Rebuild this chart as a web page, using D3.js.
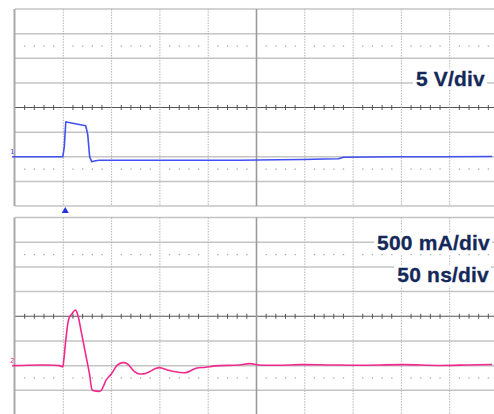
<!DOCTYPE html>
<html>
<head>
<meta charset="utf-8">
<script src="https://cdn.jsdelivr.net/npm/d3@7"></script>
<style>
body { margin: 0; background: #fff; }
</style>
</head>
<body>
<div id="scope"></div>
<script>
// time in ns, channel 1 in V, channel 2 in mA
const timeV = [-3, 49.5, 51, 52.6, 54.6, 65, 73.2, 75.3, 77.3, 79.4, 83.5, 87.6, 139, 190.7, 232, 273, 299, 320, 335, 340, 397, 440, 494];
const volts = [0, 0, 2, 7.1, 7.0, 6.6, 6.3, 4.5, 0, -1.0, -0.8, -0.7, -0.7, -0.7, -0.7, -0.6, -0.55, -0.45, -0.4, -0.1, 0, 0, 0.05];

const timeI = [-3, 25.8, 46.4, 49.2, 50.5, 52.6, 56, 58.8, 62.6, 65, 68.8, 73.9, 77.3, 80, 82.5, 88.7, 91.2, 94.5, 99.7, 106.2, 111.3, 116.5, 123.7, 128.9, 135.8, 146.1, 149.5, 157.7, 162.9, 177, 187.3, 197.6, 208, 232, 243, 252.6, 273, 296, 325, 356, 402, 438, 469, 494];
const milliamps = [0, 14, 0, -26, 115, 520, 965, 1046, 1127, 1026, 662, 156, -188, -492, -512, -512, -431, -289, -168, 14, 61, 34, -121, -168, -154, -53, -40, -87, -113, -142, -53, -32, -6, 14, 40, 14, 8, 20, 14, 8, 20, 4, 14, 24];

const labelsTop = ["5 V/div"];
const labelsBottom = ["500 mA/div", "50 ns/div"];
const triggerTime = 52;

const svg = d3.select("#scope")
    .append("svg")
    .attr("width", 494)
    .attr("height", 414);

const x = d3.scaleLinear().domain([0, 500]).range([15, 498]);

const panels = [
    { y: d3.scaleLinear().domain([-10, 30]).range([206, 9]), t: timeV, v: volts, color: "#4150ee", mark: "1", curve: d3.curveLinear },
    { y: d3.scaleLinear().domain([-1000, 3000]).range([415, 217.5]), t: timeI, v: milliamps, color: "#f02a8c", mark: "2", curve: d3.curveCatmullRom }
];

function drawGrid(g, y) {
    const d = y.domain();
    const step = (d[1] - d[0]) / 8;
    const top = y.range()[1], bot = y.range()[0];
    const rows = d3.range(9).map(i => d[0] + i * step);

    // horizontal division lines
    g.selectAll(".hl").data(rows).join("line")
        .attr("x1", 15).attr("x2", 494)
        .attr("y1", v => y(v)).attr("y2", v => y(v))
        .attr("stroke", (v, i) => i == 4 ? "#555" : "#c4c4c4")
        .attr("stroke-width", (v, i) => i == 4 ? 1 : 1.5);

    // vertical division lines
    const cols = d3.range(50, 500, 50);
    g.selectAll(".vl").data(cols).join("line")
        .attr("x1", t => x(t)).attr("x2", t => x(t))
        .attr("y1", top).attr("y2", bot)
        .attr("stroke", t => t == 250 ? "#9a9a9a" : "#b4b4b4")
        .attr("stroke-width", t => t == 250 ? 1.6 : 1)
        .attr("stroke-dasharray", t => t == 250 ? null : "1.5,1.2");

    // minor ticks on the centre line and dotted rows
    const minor = d3.range(0, 500, 10).filter(t => t % 50 != 0);
    const mid = d[0] + 4 * step;
    g.selectAll(".tk").data(minor).join("line")
        .attr("x1", t => x(t)).attr("x2", t => x(t))
        .attr("y1", y(mid) - 2.5).attr("y2", y(mid) + 2.5)
        .attr("stroke", "#555").attr("stroke-width", 1);
    [d[0] + 1.5 * step, d[0] + 6.5 * step].forEach(r => {
        g.append("g").selectAll("rect").data(minor).join("rect")
            .attr("x", t => x(t) - 0.6).attr("y", y(r) - 0.6)
            .attr("width", 1.3).attr("height", 1.3)
            .attr("fill", "#a8a8a8");
    });

    // left border
    g.append("line")
        .attr("x1", 14.5).attr("x2", 14.5).attr("y1", top).attr("y2", bot)
        .attr("stroke", "#a8a8a8").attr("stroke-width", 2);
}

panels.forEach(p => {
    const g = svg.append("g");
    drawGrid(g, p.y);

    const line = d3.line()
        .x((d, i) => x(p.t[i]))
        .y(d => p.y(d))
        .curve(p.curve);
    g.append("path")
        .datum(p.v)
        .attr("d", line)
        .attr("fill", "none")
        .attr("stroke", p.color)
        .attr("stroke-width", 1.6)
        .attr("stroke-linejoin", "round");

    // channel ground marker
    g.append("text")
        .attr("x", 10).attr("y", p.y(0) - 3)
        .attr("font-family", "DejaVu Sans")
        .attr("font-size", 7)
        .attr("fill", p.color)
        .text(p.mark);
});

// trigger position
svg.append("path")
    .attr("d", d3.symbol(d3.symbolTriangle, 22)())
    .attr("transform", `translate(${x(triggerTime)},211)`)
    .attr("fill", "#2233dd");

function label(txt, xr, yb) {
    const t = svg.append("text")
        .attr("x", xr).attr("y", yb)
        .attr("text-anchor", "end")
        .attr("font-family", "Liberation Sans, Arial, sans-serif")
        .attr("font-weight", "bold")
        .attr("font-size", 21)
        .attr("letter-spacing", 0.2)
        .attr("stroke", "#14295a")
        .attr("stroke-width", 0.3)
        .attr("fill", "#14295a")
        .text(txt);
    const b = t.node().getBBox();
    svg.insert("rect", () => t.node())
        .attr("x", b.x - 3).attr("y", b.y + 2)
        .attr("width", b.width + 5).attr("height", b.height - 2)
        .attr("fill", "#fff");
}

label(labelsTop[0], 485, 86);
label(labelsBottom[0], 490, 250);
label(labelsBottom[1], 489, 282);
</script>
</body>
</html>
